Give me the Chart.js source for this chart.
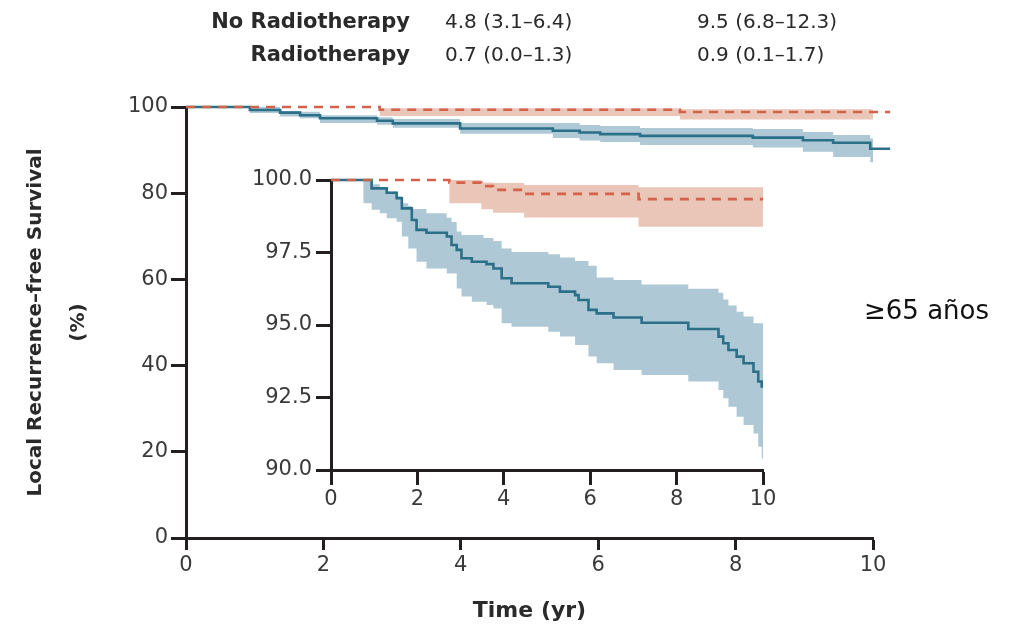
<!DOCTYPE html>
<html>
<head>
<meta charset="utf-8">
<script src="https://cdn.jsdelivr.net/npm/chart.js@4.4.1/dist/chart.umd.min.js"></script>
<style>
html,body{margin:0;padding:0;background:#fff;}
#wrap{position:relative;width:1036px;height:628px;overflow:hidden;}
#principal{position:absolute;left:0;top:0;}
#detalhe{position:absolute;left:222px;top:160px;}
</style>
</head>
<body>
<div id="wrap">
  <canvas id="principal" width="1036" height="628"></canvas>
  <canvas id="detalhe" width="560" height="360"></canvas>
</div>
<script>
// ------------------- DADOS -------------------
// grafico principal (0-100 %)
const mainNoRtTime = [0, 0.93, 1.37, 1.66, 1.95, 2.78, 3.01, 3.99, 5.34, 5.73, 6.03, 6.61, 8.25, 8.98, 9.42, 9.96, 10.25];
const mainNoRtSurv = [100, 99.3, 98.7, 98.1, 97.4, 96.8, 96.2, 95.0, 94.5, 94.1, 93.7, 93.3, 92.9, 92.3, 91.7, 90.3, 90.3];
const mainNoRtHigh = [100, 100, 99.1, 98.9, 98.1, 97.6, 97.2, 96.3, 96.3, 95.8, 95.6, 95.1, 94.9, 94.2, 93.5, 92.7, 92.7];
const mainNoRtLow  = [100, 98.6, 97.8, 97.4, 96.3, 95.9, 95.2, 93.8, 92.8, 92.2, 91.9, 91.2, 90.6, 89.6, 88.4, 87.2, 87.2];

const mainRtTime = [0, 2.82, 7.19, 10.25];
const mainRtSurv = [100, 99.35, 98.85, 98.85];
const mainRtHigh = [100, 99.7, 99.5, 99.5];
const mainRtLow  = [100, 97.9, 97.1, 97.1];

// detalhe (90-100 %)
const insetNoRtTime = [0, 0.75, 0.94, 1.13, 1.29, 1.52, 1.64, 1.79, 1.87, 1.98, 2.21, 2.68, 2.79, 2.91, 3.02, 3.26, 3.53, 3.60, 3.76, 3.95, 4.18, 5.03, 5.30, 5.65, 5.73, 5.96, 6.15, 6.54, 7.19, 8.27, 8.97, 9.08, 9.20, 9.39, 9.55, 9.78, 9.89, 9.97, 10];
const insetNoRtSurv = [100, 100, 99.71, 99.71, 99.56, 99.37, 99.02, 99.02, 98.62, 98.28, 98.18, 98.05, 97.76, 97.59, 97.30, 97.18, 97.18, 97.10, 96.95, 96.61, 96.44, 96.32, 96.15, 96.03, 95.86, 95.52, 95.40, 95.26, 95.08, 94.86, 94.60, 94.37, 94.14, 93.91, 93.68, 93.39, 93.05, 92.88, 92.88];
const insetNoRtHigh = [100, 100, 99.85, 99.75, 99.6, 99.45, 99.2, 99.1, 99.0, 99.0, 98.85, 98.7, 98.55, 98.22, 98.1, 98.1, 98.0, 98.0, 97.9, 97.64, 97.52, 97.44, 97.33, 97.21, 97.21, 97.04, 96.64, 96.55, 96.40, 96.25, 96.11, 95.88, 95.67, 95.46, 95.29, 95.06, 95.06, 95.06, 95.06];
const insetNoRtLow  = [100, 99.2, 98.97, 98.85, 98.68, 98.56, 98.05, 97.64, 97.64, 97.18, 96.95, 96.78, 96.78, 96.26, 95.98, 95.80, 95.80, 95.69, 95.57, 95.06, 94.94, 94.77, 94.60, 94.31, 94.31, 93.91, 93.68, 93.45, 93.28, 93.05, 92.76, 92.47, 92.18, 91.84, 91.55, 91.26, 90.8, 90.4, 90.4];

const insetRtTime = [0, 2.74, 3.48, 3.75, 4.47, 7.12, 10];
const insetRtSurv = [100, 99.91, 99.79, 99.66, 99.52, 99.34, 99.34];
const insetRtHigh = [100, 100, 99.91, 99.9, 99.83, 99.75, 99.75];
const insetRtLow  = [100, 99.2, 98.99, 98.87, 98.71, 98.39, 98.39];

// tabela do topo
const tabelaGrupos = ["No Radiotherapy", "Radiotherapy"];
const tabela5anos  = ["4.8 (3.1\u20136.4)", "0.7 (0.0\u20131.3)"];
const tabela10anos = ["9.5 (6.8\u201312.3)", "0.9 (0.1\u20131.7)"];
const rotuloIdade = "\u226565 a\u00f1os";

// ------------------- ESTILO -------------------
const FONTE = "'DejaVu Sans', sans-serif";
const COR_EIXO = "#231f20";
const COR_TEXTO = "#3a3a3a";
const AZUL = "#2b6f88";
const AZUL_BANDA = "#aec9d5";
const VERMELHO = "#d4614a";
const VERMELHO_BANDA = "#e9c6b8";

function pontos(t, v){
    return t.map((x,i)=>({x:x, y:v[i]}));
}

function datasetsGrupo(t, surv, low, high, cor, corBanda, tracejado, ordemLinha){
    return [
        {data:pontos(t,low), stepped:true, borderWidth:0, pointRadius:0, fill:false, clip:false, order:5},
        {data:pontos(t,high), stepped:true, borderWidth:0, pointRadius:0, fill:'-1', backgroundColor:corBanda, clip:false, order:5},
        {data:pontos(t,surv), stepped:true, borderColor:cor, borderWidth:2.6, borderDash:tracejado ? [9,7] : [], pointRadius:0, fill:false, clip:false, order:ordemLinha}
    ];
}

function eixo(min, max, passo, tickLen, pad, largura, altura){
    return {
        type:'linear', min:min, max:max,
        ticks:{stepSize:passo, color:COR_TEXTO, font:{family:FONTE, size:21}, padding:pad, maxRotation:0, autoSkip:false},
        grid:{drawOnChartArea:false, drawTicks:true, tickLength:tickLen, tickWidth:3, tickColor:COR_EIXO},
        border:{display:true, color:COR_EIXO, width:3},
        afterFit:function(s){
            if(largura) s.width = largura;
            if(altura) s.height = altura;
        }
    };
}

// ------------------- TEXTOS -------------------
const textosPlugin = {
    id:'textos',
    afterDraw(chart){
        const ctx = chart.ctx;
        ctx.save();
        ctx.textBaseline = 'alphabetic';
        ctx.fillStyle = '#2a2a2a';
        const linhas = [28, 61];
        tabelaGrupos.forEach((g,i)=>{
            ctx.font = "bold 21px " + FONTE;
            ctx.textAlign = 'right';
            ctx.fillText(g, 410, linhas[i], 232);
            ctx.font = "20px " + FONTE;
            ctx.textAlign = 'left';
            ctx.fillText(tabela5anos[i], 445, linhas[i], 168);
            ctx.fillText(tabela10anos[i], 697, linhas[i], 172);
        });
        ctx.fillStyle = '#111';
        ctx.font = "26px " + FONTE;
        ctx.textAlign = 'left';
        ctx.fillText(rotuloIdade, 864, 319);
        ctx.restore();
    }
};

// ------------------- GRAFICO PRINCIPAL -------------------
const eixoX = eixo(0, 10, 2, 12, 3, null, 90);
eixoX.title = {display:true, text:'Time (yr)', color:'#2a2a2a', font:{family:FONTE, size:22, weight:'bold'}, padding:{top:0, bottom:4}};
const eixoY = eixo(0, 100, 20, 15, 3, 186, null);
eixoY.title = {display:true, text:['Local Recurrence\u2013free Survival','(%)'], color:'#2a2a2a', font:{family:FONTE, size:20, weight:'bold', lineHeight:2.15}, padding:{top:14, bottom:0}};

new Chart(document.getElementById('principal'), {
    type:'line',
    data:{datasets:[
        ...datasetsGrupo(mainNoRtTime, mainNoRtSurv, mainNoRtLow, mainNoRtHigh, AZUL, AZUL_BANDA, false, 2),
        ...datasetsGrupo(mainRtTime, mainRtSurv, mainRtLow, mainRtHigh, VERMELHO, VERMELHO_BANDA, true, 1)
    ]},
    options:{
        responsive:false, animation:false,
        layout:{padding:{top:107, right:163, left:0, bottom:0}},
        scales:{x:eixoX, y:eixoY},
        plugins:{legend:{display:false}, tooltip:{enabled:false}}
    },
    plugins:[textosPlugin]
});

// ------------------- DETALHE -------------------
const eixoXd = eixo(0, 10, 2, 15, 2, null, 50);
const eixoYd = eixo(90, 100, 2.5, 15, 4, 109, null);
eixoYd.ticks.callback = v => v.toFixed(1);

new Chart(document.getElementById('detalhe'), {
    type:'line',
    data:{datasets:[
        ...datasetsGrupo(insetNoRtTime, insetNoRtSurv, insetNoRtLow, insetNoRtHigh, AZUL, AZUL_BANDA, false, 2),
        ...datasetsGrupo(insetRtTime, insetRtSurv, insetRtLow, insetRtHigh, VERMELHO, VERMELHO_BANDA, true, 1)
    ]},
    options:{
        responsive:false, animation:false,
        layout:{padding:{top:20, right:19, left:0, bottom:0}},
        scales:{x:eixoXd, y:eixoYd},
        plugins:{legend:{display:false}, tooltip:{enabled:false}}
    }
});
</script>
</body>
</html>
